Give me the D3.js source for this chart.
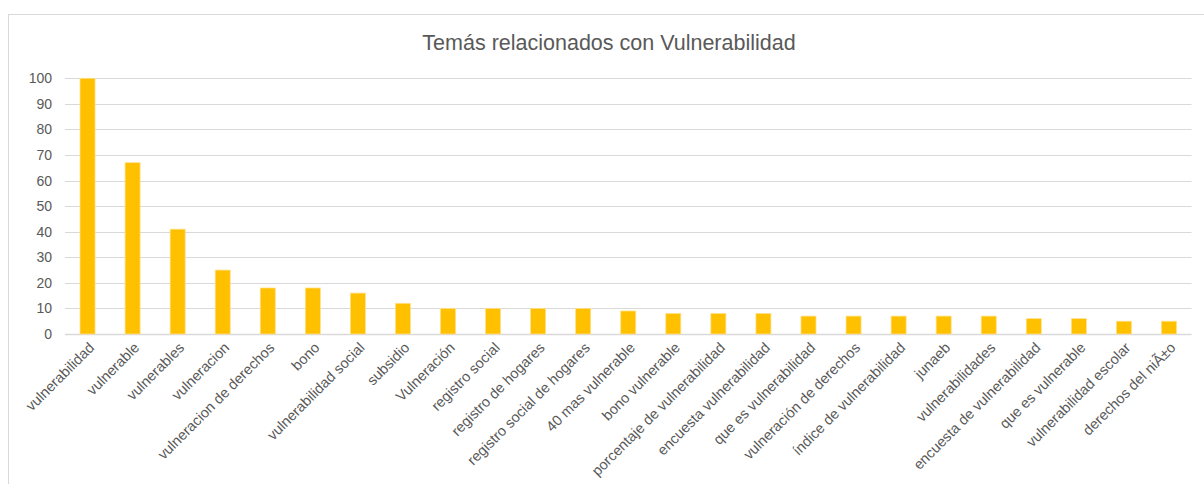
<!DOCTYPE html>
<html>
<head>
<meta charset="utf-8">
<script src="https://cdn.jsdelivr.net/npm/d3@7"></script>
<style>
  body { margin: 0; background: #fff; }
  text { font-family: "Liberation Sans", Arial, sans-serif; fill: #595959; }
</style>
</head>
<body>
<svg id="chart"></svg>
<script>
var categories = ["vulnerabilidad", "vulnerable", "vulnerables", "vulneracion",
  "vulneracion de derechos", "bono", "vulnerabilidad social", "subsidio",
  "Vulneración", "registro social", "registro de hogares", "registro social de hogares",
  "40 mas vulnerable", "bono vulnerable", "porcentaje de vulnerabilidad",
  "encuesta vulnerabilidad", "que es vulnerabilidad", "vulneración de derechos",
  "índice de vulnerabilidad", "junaeb", "vulnerabilidades", "encuesta de vulnerabilidad",
  "que es vulnerable", "vulnerabilidad escolar", "derechos del niÃ±o"];
var values = [100, 67, 41, 25, 18, 18, 16, 12, 10, 10, 10, 10, 9, 8, 8, 8, 7, 7, 7, 7, 7, 6, 6, 5, 5];
var yTicks = [0, 10, 20, 30, 40, 50, 60, 70, 80, 90, 100];
var title = "Temás relacionados con Vulnerabilidad";

var width = 1204, height = 484;
var margin = { top: 78, bottom: 150, left: 65, right: 11 };

var data = categories.map(function(c, i) { return { name: c, value: values[i] }; });

var svg = d3.select('#chart')
            .attr('width', width)
            .attr('height', height);

// outer chart frame (runs off the right/bottom of the window)
svg.append('rect')
   .attr('x', 8.5).attr('y', 14.5)
   .attr('width', width + 20).attr('height', height + 20)
   .attr('fill', 'none')
   .attr('stroke', '#d9d9d9');

svg.append('text')
   .attr('x', 609)
   .attr('y', 50)
   .attr('text-anchor', 'middle')
   .style('font-size', '21.5px')
   .text(title);

var xScale = d3.scaleBand()
               .domain(categories)
               .range([margin.left, width - margin.right - 1.5])
               .paddingInner(2/3)
               .paddingOuter(1/3);

var yScale = d3.scaleLinear()
               .domain([0, 100])
               .range([334, 78.3]);

// gridlines
svg.append('g')
   .selectAll('line')
   .data(yTicks)
   .enter()
   .append('line')
   .attr('x1', margin.left)
   .attr('x2', width - margin.right - 1.5)
   .attr('y1', d => Math.round(yScale(d)) + 0.5)
   .attr('y2', d => Math.round(yScale(d)) + 0.5)
   .attr('stroke', '#d9d9d9')
   .attr('stroke-width', d => d === 0 ? 1.5 : 1);

var yAxis = d3.axisLeft(yScale).tickValues(yTicks).tickSize(0).tickPadding(0);
var yG = svg.append('g')
   .attr('transform', 'translate(52,0)')
   .call(yAxis);
yG.select('.domain').remove();
yG.selectAll('text')
  .style('font-size', '14px')
  .style('font-family', '"Liberation Sans", Arial, sans-serif')
  .attr('fill', '#595959');

// bars
svg.append('g')
   .selectAll('rect')
   .data(data)
   .enter()
   .append('rect')
   .attr('x', d => xScale(d.name))
   .attr('width', xScale.bandwidth())
   .attr('y', d => yScale(d.value))
   .attr('height', d => yScale(0) - yScale(d.value))
   .attr('fill', '#ffc000')
   .attr('stroke', '#ffe08a')
   .attr('stroke-width', 0.75);

// rotated category labels
svg.append('g')
   .selectAll('text')
   .data(data)
   .enter()
   .append('text')
   .attr('transform', d => 'translate(' + (xScale(d.name) + xScale.bandwidth() / 2 + 4) + ',345) rotate(-45)')
   .attr('text-anchor', 'end')
   .attr('dy', '0.35em')
   .style('font-size', '14.5px')
   .text(d => d.name);
</script>
</body>
</html>
